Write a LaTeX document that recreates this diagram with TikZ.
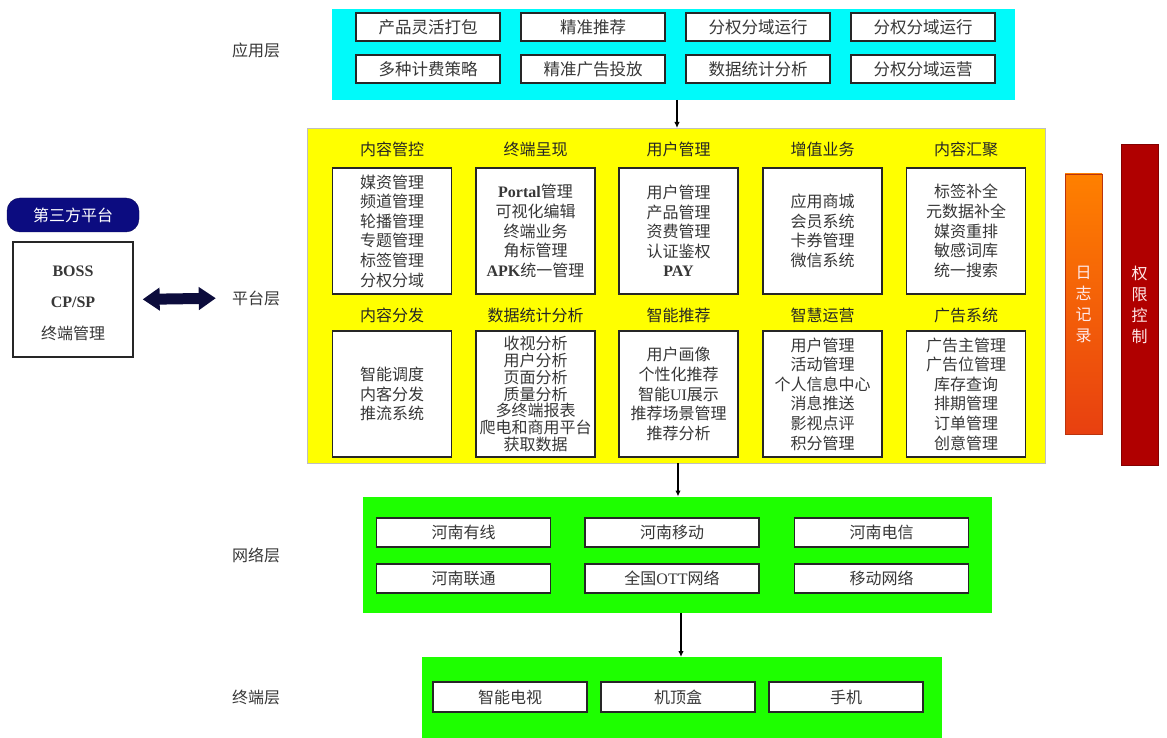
\documentclass[tikz,border=0pt]{standalone}
\usepackage{fontspec}
\setmainfont{Noto Sans CJK SC}
\newfontfamily\lat{Liberation Serif}
\usetikzlibrary{arrows.meta}
\definecolor{cyanL}{RGB}{0,250,250}
\definecolor{yellowL}{RGB}{255,255,0}
\definecolor{greenL}{RGB}{30,255,0}
\definecolor{navyP}{RGB}{12,12,128}
\definecolor{navyA}{RGB}{12,12,60}
\definecolor{orangeT}{RGB}{255,128,0}
\definecolor{orangeB}{RGB}{232,64,16}
\definecolor{redB}{RGB}{176,0,0}
\definecolor{txt}{RGB}{55,55,55}
\definecolor{barTxt}{RGB}{255,232,232}
\newcommand{\fsz}{\fontsize{16}{19.6}\selectfont}
\newcommand{\lt}[1]{{\lat\bfseries #1}}
\newcommand{\lr}[1]{{\lat #1}}
\begin{document}
\begin{tikzpicture}[x=1pt,y=-1pt,
  layer/.style={inner sep=0pt, outer sep=0pt, draw=none},
  tbox/.style={draw=black!85, line width=1.5pt, fill=white, text=txt, inner sep=0pt, align=center, font=\fsz},
  abox/.style={tbox, minimum width=144, minimum height=28, font=\fontsize{16.5}{19}\selectfont},
  pbox/.style={tbox, minimum width=119, minimum height=126},
  nbox/.style={tbox, minimum width=174, minimum height=29},
  tmbox/.style={tbox, minimum width=154, minimum height=30},
  head/.style={inner sep=0pt, text=black!85, font=\fsz},
  lbl/.style={inner sep=0pt, text=txt, font=\fsz},
  bar/.style={inner sep=0pt, draw=none},
  bartext/.style={inner sep=0pt, align=center, text=barTxt, font=\fontsize{16}{21}\selectfont},
  arr/.style={draw=black, line width=1.3pt, -{Latex[length=6pt,width=5.5pt]}}
]
\useasboundingbox (0,0) rectangle (1167,738);

% ---------- layer labels
\node[lbl] (l1) at (256,50) {应用层};
\node[lbl] (l2) at (256,298) {平台层};
\node[lbl] (l3) at (256,555) {网络层};
\node[lbl] (l4) at (256,697) {终端层};

% ---------- application layer
\node[layer, fill=cyanL, minimum width=683, minimum height=91] (app) at (673.5,54.5) {};
\node[abox] (a1) at (428,27) {产品灵活打包};
\node[abox] (a2) at (593,27) {精准推荐};
\node[abox] (a3) at (758,27) {分权分域运行};
\node[abox] (a4) at (923,27) {分权分域运行};
\node[abox] (a5) at (428,69) {多种计费策略};
\node[abox] (a6) at (593,69) {精准广告投放};
\node[abox] (a7) at (758,69) {数据统计分析};
\node[abox] (a8) at (923,69) {分权分域运营};

% ---------- platform layer
\node[layer, fill=yellowL, draw=black!25, line width=0.8pt, minimum width=738, minimum height=335] (plat) at (676,295.5) {};
\node[head] (h1) at (392,149) {内容管控};
\node[head] (h2) at (535.5,149) {终端呈现};
\node[head] (h3) at (678.5,149) {用户管理};
\node[head] (h4) at (822.5,149) {增值业务};
\node[head] (h5) at (966,149) {内容汇聚};
\node[head] (h6) at (392,315) {内容分发};
\node[head] (h7) at (535.5,315) {数据统计分析};
\node[head] (h8) at (678.5,315) {智能推荐};
\node[head] (h9) at (822.5,315) {智慧运营};
\node[head] (h10) at (966,315) {广告系统};

\node[pbox] (b11) at (392,231) {媒资管理\\频道管理\\轮播管理\\专题管理\\标签管理\\分权分域};
\node[pbox] (b12) at (535.5,231) {\lt{Portal}管理\\可视化编辑\\终端业务\\角标管理\\\lt{APK}统一管理};
\node[pbox] (b13) at (678.5,231) {用户管理\\产品管理\\资费管理\\认证鉴权\\\lt{PAY}};
\node[pbox] (b14) at (822.5,231) {应用商城\\会员系统\\卡券管理\\微信系统};
\node[pbox] (b15) at (966,231) {标签补全\\元数据补全\\媒资重排\\敏感词库\\统一搜索};
\node[pbox] (b21) at (392,394) {智能调度\\内客分发\\推流系统};
\node[pbox, font=\fontsize{16}{16.8}\selectfont] (b22) at (535.5,394) {收视分析\\用户分析\\页面分析\\质量分析\\多终端报表\\爬电和商用平台\\获取数据};
\node[pbox] (b23) at (678.5,394) {用户画像\\个性化推荐\\智能\lr{UI}展示\\推荐场景管理\\推荐分析};
\node[pbox] (b24) at (822.5,394) {用户管理\\活动管理\\个人信息中心\\消息推送\\影视点评\\积分管理};
\node[pbox] (b25) at (966,394) {广告主管理\\广告位管理\\库存查询\\排期管理\\订单管理\\创意管理};

% ---------- third party
\node[inner sep=0pt, fill=navyP, draw=navyP!70!black, rounded corners=13pt, minimum width=132, minimum height=34, text=white, font=\fsz] (tp) at (73,215) {第三方平台};
\node[tbox, line width=1.3pt, minimum width=120, minimum height=115] (third) at (73,299.5) {};
\node[inner sep=0pt, align=center, text=txt, font=\fontsize{16}{31.5}\selectfont] (thirdt) at (73,303) {\lt{BOSS}\\\lt{CP/SP}\\终端管理};
\draw[navyA, line width=11pt, {Triangle[length=17pt,width=22pt]}-{Triangle[length=17pt,width=22pt]}, shorten <=9pt, shorten >=16pt] (third.east) -- (l2.west);

% ---------- side bars
\node[bar, top color=orangeT, bottom color=orangeB, draw=orangeB!80!black, line width=0.6pt, minimum width=37, minimum height=260] (log) at (1083.5,304) {};
\node[bartext] (logt) at (log.center) {日\\志\\记\\录};
\node[bar, fill=redB, draw=redB!75!black, line width=0.6pt, minimum width=37, minimum height=321] (perm) at (1139.5,304.5) {};
\node[bartext] (permt) at (perm.center) {权\\限\\控\\制};

% ---------- network layer
\node[layer, fill=greenL, minimum width=629, minimum height=116] (net) at (677.5,554.5) {};
\node[nbox] (n1) at (463.5,532.5) {河南有线};
\node[nbox] (n2) at (672,532.5) {河南移动};
\node[nbox] (n3) at (881.5,532.5) {河南电信};
\node[nbox] (n4) at (463.5,578.5) {河南联通};
\node[nbox] (n5) at (672,578.5) {全国\lr{OTT}网络};
\node[nbox] (n6) at (881.5,578.5) {移动网络};

% ---------- terminal layer
\node[layer, fill=greenL, minimum width=520, minimum height=81] (term) at (682,697.5) {};
\node[tmbox] (t1) at (510,697) {智能电视};
\node[tmbox] (t2) at (678,697) {机顶盒};
\node[tmbox] (t3) at (846,697) {手机};

% ---------- connectors
\draw[arr] (app.south -| 677,0) -- (plat.north -| 677,0);
\draw[arr] (plat.south -| 678,0) -- (net.north -| 678,0);
\draw[arr] (net.south -| 681,0) -- (term.north -| 681,0);
\end{tikzpicture}
\end{document}
